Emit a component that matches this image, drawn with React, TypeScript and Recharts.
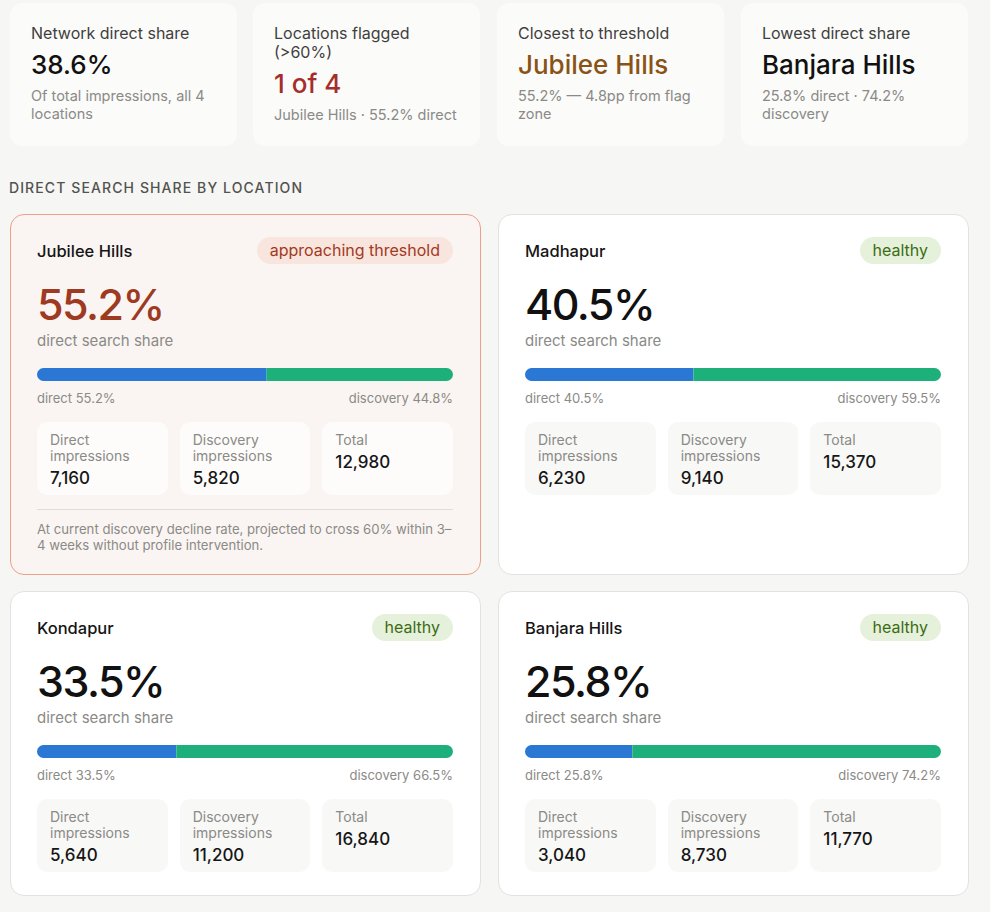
import React from "react";
import { BarChart, Bar, XAxis, YAxis } from "recharts";

const kpiLabels = ["Network direct share", "Locations flagged (>60%)", "Closest to threshold", "Lowest direct share"];
const kpiValues = ["38.6%", "1 of 4", "Jubilee Hills", "Banjara Hills"];
const kpiNotes = [
  ["Of total impressions, all 4", "locations"],
  ["Jubilee Hills · 55.2% direct"],
  ["55.2% — 4.8pp from flag", "zone"],
  ["25.8% direct · 74.2%", "discovery"],
];
const kpiValueColors = ["#111111", "#a52e2a", "#8a5316", "#111111"];

const sectionTitle = "DIRECT SEARCH SHARE BY LOCATION";
const locations = ["Jubilee Hills", "Madhapur", "Kondapur", "Banjara Hills"];
const directShare = [55.2, 40.5, 33.5, 25.8];
const discoveryShare = [44.8, 59.5, 66.5, 74.2];
const directImpr = [7160, 6230, 5640, 3040];
const discoveryImpr = [5820, 9140, 11200, 8730];
const totalImpr = [12980, 15370, 16840, 11770];
const statuses = ["approaching threshold", "healthy", "healthy", "healthy"];
const noteLines = [
  ["At current discovery decline rate, projected to cross 60% within 3–", "4 weeks without profile intervention."],
  [],
  [],
  [],
];

const FONT = "Inter, 'Open Sans', sans-serif";
const BLUE = "#2b77d4";
const GREEN = "#1eb07a";

const cardPos = [
  { left: 10, top: 214, height: 361 },
  { left: 498, top: 214, height: 361 },
  { left: 10, top: 591, height: 305 },
  { left: 498, top: 591, height: 305 },
];

function fmt(n: number) {
  return n.toLocaleString("en-US");
}

function ShareBar({ i }: { i: number }) {
  const data = [{ name: locations[i], direct: directShare[i], discovery: discoveryShare[i] }];
  return (
    <BarChart
      width={416}
      height={13}
      data={data}
      layout="vertical"
      margin={{ top: 0, right: 0, bottom: 0, left: 0 }}
      barCategoryGap={0}
    >
      <XAxis type="number" domain={[0, 100]} hide />
      <YAxis type="category" dataKey="name" hide />
      <Bar dataKey="direct" stackId="s" fill={BLUE} radius={[7, 0, 0, 7]} isAnimationActive={false} />
      <Bar dataKey="discovery" stackId="s" fill={GREEN} radius={[0, 7, 7, 0]} isAnimationActive={false} />
    </BarChart>
  );
}

function StatBox({ label, value, bg }: { label: string[]; value: string; bg: string }) {
  return (
    <div style={{ background: bg, borderRadius: 10, height: 73, padding: "10px 13px 0 13px", boxSizing: "border-box" }}>
      {label.map((l, k) => (
        <div key={k} style={{ fontSize: 14, lineHeight: "16px", color: "#8a8a86" }}>{l}</div>
      ))}
      <div style={{ fontSize: 17, lineHeight: "22px", color: "#161616", fontWeight: 500, marginTop: 3 }}>{value}</div>
    </div>
  );
}

function LocationCard({ i }: { i: number }) {
  const flagged = statuses[i] !== "healthy";
  const pos = cardPos[i];
  const boxBg = flagged ? "#fdfcfb" : "#f8f8f6";
  return (
    <div
      style={{
        position: "absolute",
        left: pos.left,
        top: pos.top,
        width: 471,
        height: pos.height,
        boxSizing: "border-box",
        background: flagged ? "#faf5f2" : "#ffffff",
        border: flagged ? "1px solid #ee9f85" : "1px solid #e2e2df",
        borderRadius: 14,
        padding: "22px 27px 0 26px",
      }}
    >
      <div style={{ display: "flex", justifyContent: "space-between", alignItems: "center", height: 27 }}>
        <div style={{ fontSize: 16.5, fontWeight: 500, color: "#151515" }}>{locations[i]}</div>
        <div
          style={{
            height: 27,
            lineHeight: "27px",
            padding: "0 13px",
            borderRadius: 14,
            fontSize: 16,
            background: flagged ? "#f8e5de" : "#e6f1dc",
            color: flagged ? "#a3391d" : "#3d6b14",
          }}
        >
          {statuses[i]}
        </div>
      </div>
      <div
        style={{
          marginTop: 16,
          fontSize: 43,
          lineHeight: "48px",
          fontWeight: 500,
          letterSpacing: -1.5,
          color: flagged ? "#9e3a21" : "#111111",
        }}
      >
        {directShare[i].toFixed(1)}%
      </div>
      <div style={{ fontSize: 15, lineHeight: "20px", color: "#8a8a86", marginTop: 3 }}>direct search share</div>
      <div style={{ marginTop: 17, height: 13 }}>
        <ShareBar i={i} />
      </div>
      <div
        style={{
          display: "flex",
          justifyContent: "space-between",
          fontSize: 13,
          lineHeight: "16px",
          color: "#8a8a86",
          marginTop: 9,
        }}
      >
        <span>direct {directShare[i].toFixed(1)}%</span>
        <span>discovery {discoveryShare[i].toFixed(1)}%</span>
      </div>
      <div style={{ display: "grid", gridTemplateColumns: "1fr 1fr 1fr", columnGap: 12, marginTop: 16 }}>
        <StatBox label={["Direct", "impressions"]} value={fmt(directImpr[i])} bg={boxBg} />
        <StatBox label={["Discovery", "impressions"]} value={fmt(discoveryImpr[i])} bg={boxBg} />
        <StatBox label={["Total"]} value={fmt(totalImpr[i])} bg={boxBg} />
      </div>
      {noteLines[i].length ? (
        <div>
          <div style={{ marginTop: 14, borderTop: "1px solid #e2dcd8" }} />
          <div style={{ marginTop: 11 }}>
            {noteLines[i].map((l, k) => (
              <div key={k} style={{ fontSize: 13.15, lineHeight: "16px", color: "#8a8a86", whiteSpace: "nowrap" }}>{l}</div>
            ))}
          </div>
        </div>
      ) : null}
    </div>
  );
}

export default function App() {
  return (
    <div
      style={{
        position: "absolute",
        left: 0,
        top: 0,
        width: 990,
        height: 912,
        background: "#f6f6f4",
        fontFamily: FONT,
        overflow: "hidden",
      }}
    >
      {kpiLabels.map((lab, k) => (
        <div
          key={k}
          style={{
            position: "absolute",
            left: [10, 253, 497, 741][k],
            top: 3,
            width: 227,
            height: 143,
            boxSizing: "border-box",
            background: "#fbfbfa",
            borderRadius: 12,
            padding: "21px 20px 0 21px",
          }}
        >
          <div style={{ fontSize: 16, lineHeight: "19px", color: "#3f3f3d" }}>{lab}</div>
          <div
            style={{
              fontSize: 26,
              lineHeight: "32px",
              fontWeight: 500,
              color: kpiValueColors[k],
              marginTop: 6,
            }}
          >
            {kpiValues[k]}
          </div>
          <div style={{ marginTop: 6 }}>
            {kpiNotes[k].map((n, j) => (
              <div key={j} style={{ fontSize: 14.5, lineHeight: "18px", color: "#8a8a86" }}>{n}</div>
            ))}
          </div>
        </div>
      ))}
      <div
        style={{
          position: "absolute",
          left: 9,
          top: 179,
          fontSize: 14,
          lineHeight: "18px",
          letterSpacing: 1.1,
          fontWeight: 500,
          color: "#52524f",
        }}
      >
        {sectionTitle}
      </div>
      {locations.map((_, i) => (
        <LocationCard key={i} i={i} />
      ))}
    </div>
  );
}
